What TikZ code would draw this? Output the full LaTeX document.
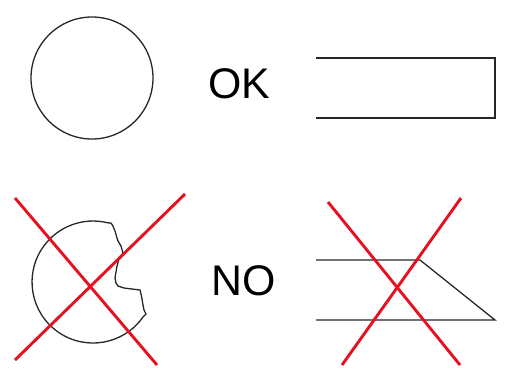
\documentclass[tikz,border=0pt]{standalone}
\usepackage{fontspec}
\setmainfont{Liberation Sans}
\definecolor{crossred}{RGB}{228,18,32}

\begin{document}
\begin{tikzpicture}[x=1bp,y=-1bp,
    shape line/.style={line width=1.3bp,black!85},
    cross line/.style={line width=2.9bp,crossred},
    verdict/.style={font=\fontsize{43}{46}\selectfont,inner sep=0pt}]
    \useasboundingbox (0,0) rectangle (506,380);
    \draw[shape line] (92,78) circle (61);
    \node[verdict] (ok) at (239,84) {OK};
    \draw[shape line] (316,58) -- (495,58) -- (495,118) -- (316,118);
    \draw[shape line] (143,317) arc (35:284:61) -- (111,223) -- (113,226) -- (115,231)
      -- (117,238) -- (118,241) -- (121,246) -- (123,253) -- (119,259) -- (117,266)
      -- (116,272) -- (115,278) -- (116,283) -- (118,286) -- (124,288) -- (132,289)
      -- (140,290) -- (141,294) -- (142,299) -- (143,305) -- (144,310) -- (146,314) -- cycle;
    \draw[cross line] (15,198) -- (157,365);
    \draw[cross line] (185,194) -- (15,360);
    \node[verdict] (no) at (244,281) {NO};
    \draw[shape line] (316,260) -- (420,260) -- (495,320) -- (316,320);
    \draw[cross line] (328,202) -- (460,365);
    \draw[cross line] (461,198) -- (342,365);
  \end{tikzpicture}
\end{document}
